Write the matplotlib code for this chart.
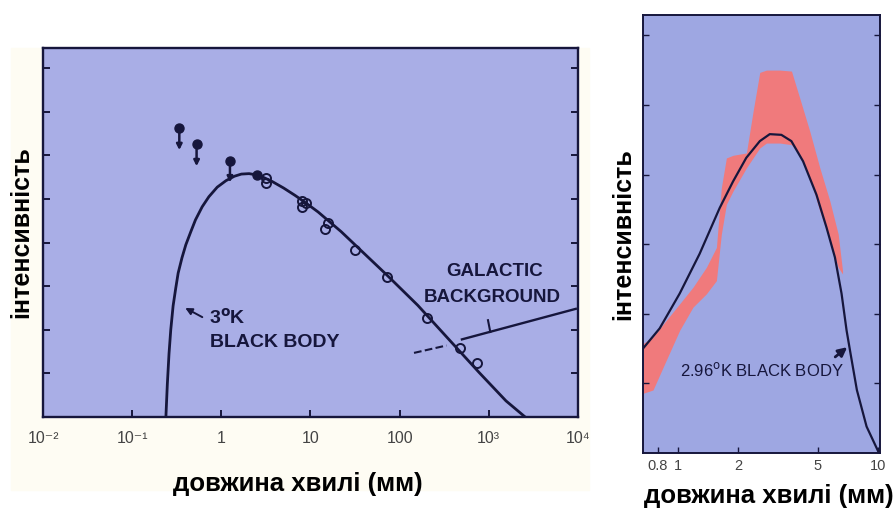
import matplotlib
matplotlib.use("Agg")
import matplotlib.pyplot as plt
from matplotlib.patches import Rectangle

plt.rcParams["font.family"] = ["Liberation Sans", "DejaVu Sans"]

# ліва панель: крива чорного тіла 3 K
bb_x = [0.239, 0.248, 0.259, 0.271, 0.288, 0.308, 0.328, 0.362, 0.40, 0.455,
        0.513, 0.61, 0.725, 0.90, 1.13, 1.40, 1.68, 2.05, 2.50, 3.0, 3.72,
        5.0, 6.73, 9.0, 12.2, 22.1, 40.0, 72.4, 160, 353, 780, 1560, 2560]
bb_y = [0.0, 0.75, 1.45, 2.0, 2.55, 2.95, 3.30, 3.65, 3.95, 4.25,
        4.52, 4.82, 5.05, 5.27, 5.42, 5.52, 5.57, 5.58, 5.55, 5.49, 5.40,
        5.25, 5.08, 4.90, 4.70, 4.25, 3.75, 3.25, 2.56, 1.79, 1.02, 0.37, 0.0]

# верхні межі (заповнені точки зі стрілками)
lim_x = [0.338, 0.528, 1.25]
lim_y = [6.62, 6.25, 5.88]
# заповнена точка на кривій
fill_x = [2.5]
fill_y = [5.56]
# відкриті кружки - вимірювання
obs_x = [3.14, 3.14, 7.94, 8.87, 7.94, 15.6, 14.6, 31.3, 72.4, 205, 475, 743]
obs_y = [5.48, 5.37, 4.96, 4.91, 4.81, 4.45, 4.32, 3.83, 3.22, 2.28, 1.58, 1.23]

# галактичний фон
gal_dash_x = [145, 336]
gal_dash_y = [1.47, 1.64]
gal_x = [500, 9460]
gal_y = [1.78, 2.48]

left_xticks = [1e-2, 1e-1, 1, 10, 100, 1e3, 1e4]
left_xlabels = ["10⁻²", "10⁻¹", "1", "10", "100", "10³", "10⁴"]

# права панель: крива 2.96 K і смуга вимірювань
r_x = [0.673, 0.815, 1.025, 1.288, 1.622, 1.89, 2.20, 2.57, 2.88, 3.29, 3.69,
       4.22, 4.92, 5.52, 6.08, 6.56, 6.95, 7.27, 7.82, 8.74, 10.0]
r_y = [1.50, 1.79, 2.29, 2.86, 3.52, 3.90, 4.24, 4.48, 4.58, 4.57, 4.48,
       4.19, 3.71, 3.24, 2.81, 2.29, 1.76, 1.43, 0.905, 0.38, 0.02]

band_x = [0.673, 0.755, 0.879, 1.025, 1.194, 1.392, 1.562, 1.653, 1.751, 1.890,
          2.203, 2.378, 2.568, 2.772, 3.231, 3.694, 4.064, 4.559, 5.114, 5.737,
          6.313, 6.634]
band_hi = [1.571, 1.667, 1.905, 2.143, 2.381, 2.667, 2.952, 3.810, 4.238, 4.276,
           4.310, 4.905, 5.467, 5.5, 5.5, 5.486, 5.095, 4.619, 4.095, 3.619,
           3.143, 2.619]
band_lo = [0.857, 0.905, 1.333, 1.762, 2.095, 2.286, 2.476, 3.143, 3.571, 3.762,
           4.095, 4.238, 4.381, 4.452, 4.452, 4.429, 4.286, 3.952, 3.476, 3.048,
           2.667, 2.571]

right_xticks = [0.8, 1, 2, 5, 10]
right_xlabels = ["0.8", "1", "2", "5", "10"]

ink = "#16163c"
bg_left = "#a9aee6"
bg_right = "#9ea7e2"

fig = plt.figure(figsize=(8.96, 5.17), dpi=100)
# ледь помітна кремова підкладка під лівою панеллю
fig.patches.append(Rectangle((0.012, 0.052), 0.645, 0.855, transform=fig.transFigure,
                             color="#fefcf3", zorder=-1))

# ---- ліва панель
ax = fig.add_axes([0.048, 0.1934, 0.597, 0.7137])
ax.set_facecolor(bg_left)
ax.plot(bb_x, bb_y, color=ink, lw=2)
ax.plot(lim_x, lim_y, "o", color=ink, ms=6.5)
for xx, yy in zip(lim_x, lim_y):
    ax.annotate("", xy=(xx, yy - 0.5), xytext=(xx, yy),
                arrowprops=dict(arrowstyle="-|>", color=ink, lw=1.8,
                                mutation_scale=8, shrinkA=0, shrinkB=0))
ax.plot(fill_x, fill_y, "o", color=ink, ms=6.5)
ax.plot(obs_x, obs_y, "o", mfc="none", mec=ink, mew=1.4, ms=6.5)
ax.plot(gal_dash_x, gal_dash_y, "--", color=ink, lw=1.5)
ax.plot(gal_x, gal_y, "-", color=ink, lw=1.7)
ax.plot([980, 1040], [2.22, 1.95], "-", color=ink, lw=1.5)
ax.text(1167, 3.33, "GALACTIC", ha="center", va="center", fontsize=13.5,
        fontweight="bold", color=ink)
ax.text(1081, 2.75, "BACKGROUND", ha="center", va="center", fontsize=13.5,
        fontweight="bold", color=ink)
ax.annotate("", xy=(0.394, 2.5), xytext=(0.612, 2.29),
            arrowprops=dict(arrowstyle="-|>", color=ink, lw=1.4, mutation_scale=10,
                            shrinkA=0, shrinkB=0))
ax.text(0.733, 2.27, "3$^{\\mathbf{o}}$K", ha="left", va="center", fontsize=14,
        fontweight="bold", color=ink)
ax.text(0.745, 1.70, "BLACK BODY", ha="left", va="center", fontsize=14,
        fontweight="bold", color=ink)
ax.set_xscale("log")
ax.set_xlim(1e-2, 1e4)
ax.set_ylim(0, 8.46)
ax.set_xticks(left_xticks)
ax.set_xticklabels(left_xlabels, fontsize=11.5, color="#444444")
ax.minorticks_off()
ax.set_yticks(range(1, 9))
ax.set_yticklabels([])
ax.tick_params(direction="in", length=5, width=1.4, color=ink, pad=10)
ax.tick_params(axis="y", right=True)
for s in ax.spines.values():
    s.set_color(ink)
    s.set_linewidth(1.7)
ax.set_xlabel("довжина хвилі (мм)", fontsize=18.5, fontweight="bold")
ax.xaxis.set_label_coords(0.477, -0.15)
ax.set_ylabel("інтенсивність", fontsize=18, fontweight="bold")
ax.yaxis.set_label_coords(-0.019, 0.5)

# ---- права панель
ax2 = fig.add_axes([0.7176, 0.1238, 0.2645, 0.847])
ax2.set_facecolor(bg_right)
ax2.fill_between(band_x, band_lo, band_hi, color="#f07a7c", lw=0)
ax2.plot(r_x, r_y, color=ink, lw=1.6)
ax2.annotate("", xy=(7.0, 1.52), xytext=(6.1, 1.38),
             arrowprops=dict(arrowstyle="-|>", color=ink, lw=2.0, mutation_scale=13,
                             shrinkA=0, shrinkB=0))
ax2.text(1.025, 1.19, "2.96$^{\\rm o}$K BLACK BODY", ha="left", va="center",
         fontsize=12, color=ink)
ax2.set_xscale("log")
ax2.set_xlim(0.673, 10.19)
ax2.set_ylim(0, 6.29)
ax2.set_xticks(right_xticks)
ax2.set_xticklabels(right_xlabels, fontsize=10.5, color="#444444")
ax2.minorticks_off()
ax2.set_yticks(range(1, 7))
ax2.set_yticklabels([])
ax2.tick_params(direction="in", length=4, width=1.0, color=ink, pad=4)
ax2.tick_params(axis="y", right=True)
for s in ax2.spines.values():
    s.set_color(ink)
    s.set_linewidth(1.4)
ax2.set_xlabel("довжина хвилі (мм)", fontsize=18.5, fontweight="bold")
ax2.xaxis.set_label_coords(0.53, -0.07)
ax2.set_ylabel("інтенсивність", fontsize=18, fontweight="bold")
ax2.yaxis.set_label_coords(-0.034, 0.5)

fig.savefig("out.png", dpi=100)
